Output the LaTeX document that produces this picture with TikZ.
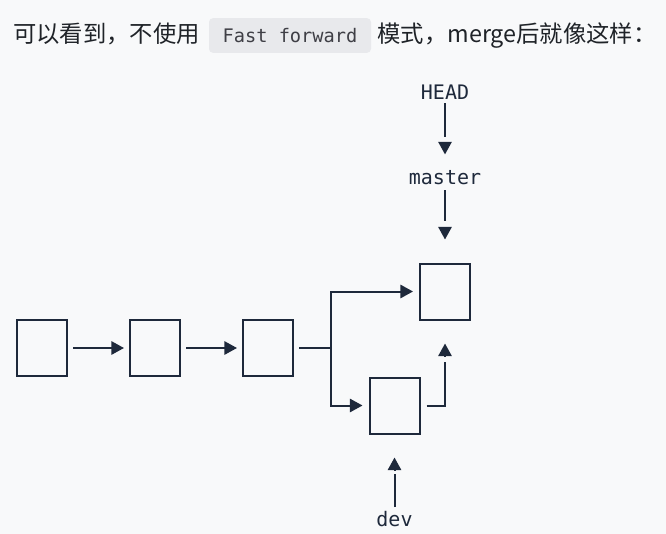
\documentclass[tikz,border=0pt]{standalone}
\usepackage{fontspec}
\setmainfont{Noto Sans CJK SC}
\newfontfamily\codefont{DejaVu Sans Mono}
\usetikzlibrary{arrows.meta, positioning}

\definecolor{pagebg}{HTML}{F8F9FA}
\definecolor{ink}{HTML}{1E293B}
\definecolor{chipbg}{HTML}{E8E9EC}
\definecolor{chiptext}{HTML}{3F3F46}
\definecolor{bodytext}{HTML}{1F2328}

\tikzset{
  heading/.style={font=\fontsize{17.5pt}{21pt}\selectfont, text=bodytext, inner sep=0pt},
  chip/.style={fill=chipbg, rounded corners=3pt, minimum width=121.5pt, minimum height=26pt, inner sep=0pt,
    font=\codefont\fontsize{14pt}{16pt}\selectfont, text=chiptext},
  commit/.style={rectangle, draw=ink, line width=1.5pt, minimum width=37.5pt, minimum height=42pt, inner sep=0pt},
  refname/.style={font=\codefont\fontsize{15pt}{15pt}\selectfont, text=ink, inner sep=0pt, text height=11pt, text depth=0pt},
  link/.style={draw=ink, line width=1.5pt},
  pointer/.style={link, -{Triangle[length=9.5pt, width=10pt]}},
  stem/.style 2 args={link, shorten <=#1, shorten >=#2},
  head/.style 2 args={pointer, shorten <=#1, shorten >=#2}
}

\begin{document}
\begin{tikzpicture}[x=0.75pt, y=-0.75pt]
  % page
  \fill[pagebg] (0,0) rectangle (666,534);

  % heading line
  \node[chip] (ffchip) at (290,35.5) {Fast forward};
  \node[heading, left=6.5pt of ffchip.base west, anchor=base east] (intro) {可以看到，不使用};
  \node[heading, right=4.5pt of ffchip.base east, anchor=base west] (outro) {模式，merge后就像这样：};

  % commits
  \node[commit] (c1) at (42,348) {};
  \node[commit, right=45.75pt of c1] (c2) {};
  \node[commit, right=45.75pt of c2] (c3) {};
  \node[commit] (merge) at (445,291.5) {};
  \node[commit] (devtip) at (394.5,405.5) {};
  \coordinate (fork) at (331,348);
  \coordinate (elbow) at (devtip -| merge);

  % refs
  \node[refname] (head) at (445,92.5) {HEAD};
  \node[refname] (mastername) at (445,177.5) {master};
  \node[refname] (devname) at (394.5,519) {dev};

  % history
  \draw[pointer, shorten <=3.75pt, shorten >=3.75pt] (c1) -- (c2);
  \draw[pointer, shorten <=3.75pt, shorten >=3.75pt] (c2) -- (c3);
  \draw[link, shorten <=3.75pt] (c3) -- (fork);
  \draw[pointer, shorten >=4.5pt] (fork) |- (merge);
  \draw[pointer, shorten >=4.5pt] (fork) |- (devtip);
  \draw[stem={4.5pt}{30.75pt}] (devtip) -| (merge);
  \draw[head={37.35pt}{17.25pt}] (elbow) -- (merge);

  % refs pointing down / up (stem and head drawn apart)
  \draw[stem={2.25pt}{24.4pt}] (head) -- (mastername);
  \draw[head={31.7pt}{11.6pt}] (head) -- (mastername);
  \draw[stem={3.75pt}{30.75pt}] (mastername) -- (merge);
  \draw[head={31.7pt}{17.25pt}] (mastername) -- (merge);
  \draw[stem={3.2pt}{29.25pt}] (devname) -- (devtip);
  \draw[head={31.2pt}{17.25pt}] (devname) -- (devtip);
\end{tikzpicture}
\end{document}
